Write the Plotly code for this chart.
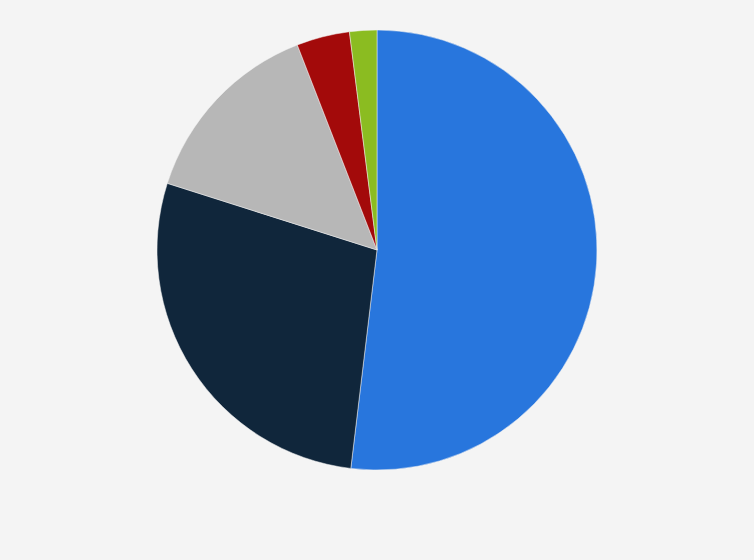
import plotly.graph_objects as go

categories = ["Segment A", "Segment B", "Segment C", "Segment D", "Segment E"]
values = [51.9, 28.0, 14.2, 3.9, 2.0]
colors = ["#2876dd", "#10263b", "#b7b7b7", "#a30a0a", "#8bbc21"]

W, H = 754, 560
cx, cy, r = 377, 250, 220

fig = go.Figure(go.Pie(
    labels=categories,
    values=values,
    sort=False,
    direction="clockwise",
    rotation=0,
    textinfo="none",
    marker=dict(colors=colors, line=dict(color="#f3f3f3", width=0.5)),
    domain=dict(x=[(cx - r) / W, (cx + r) / W], y=[1 - (cy + r) / H, 1 - (cy - r) / H]),
    showlegend=False,
))
fig.update_layout(
    width=W, height=H,
    margin=dict(l=0, r=0, t=0, b=0),
    paper_bgcolor="#f4f4f4",
    plot_bgcolor="#f4f4f4",
)
fig.write_html(
    "out.html",
    config={"displayModeBar": False},
    post_script="document.body.style.margin='0';document.body.style.background='#f4f4f4';",
)
